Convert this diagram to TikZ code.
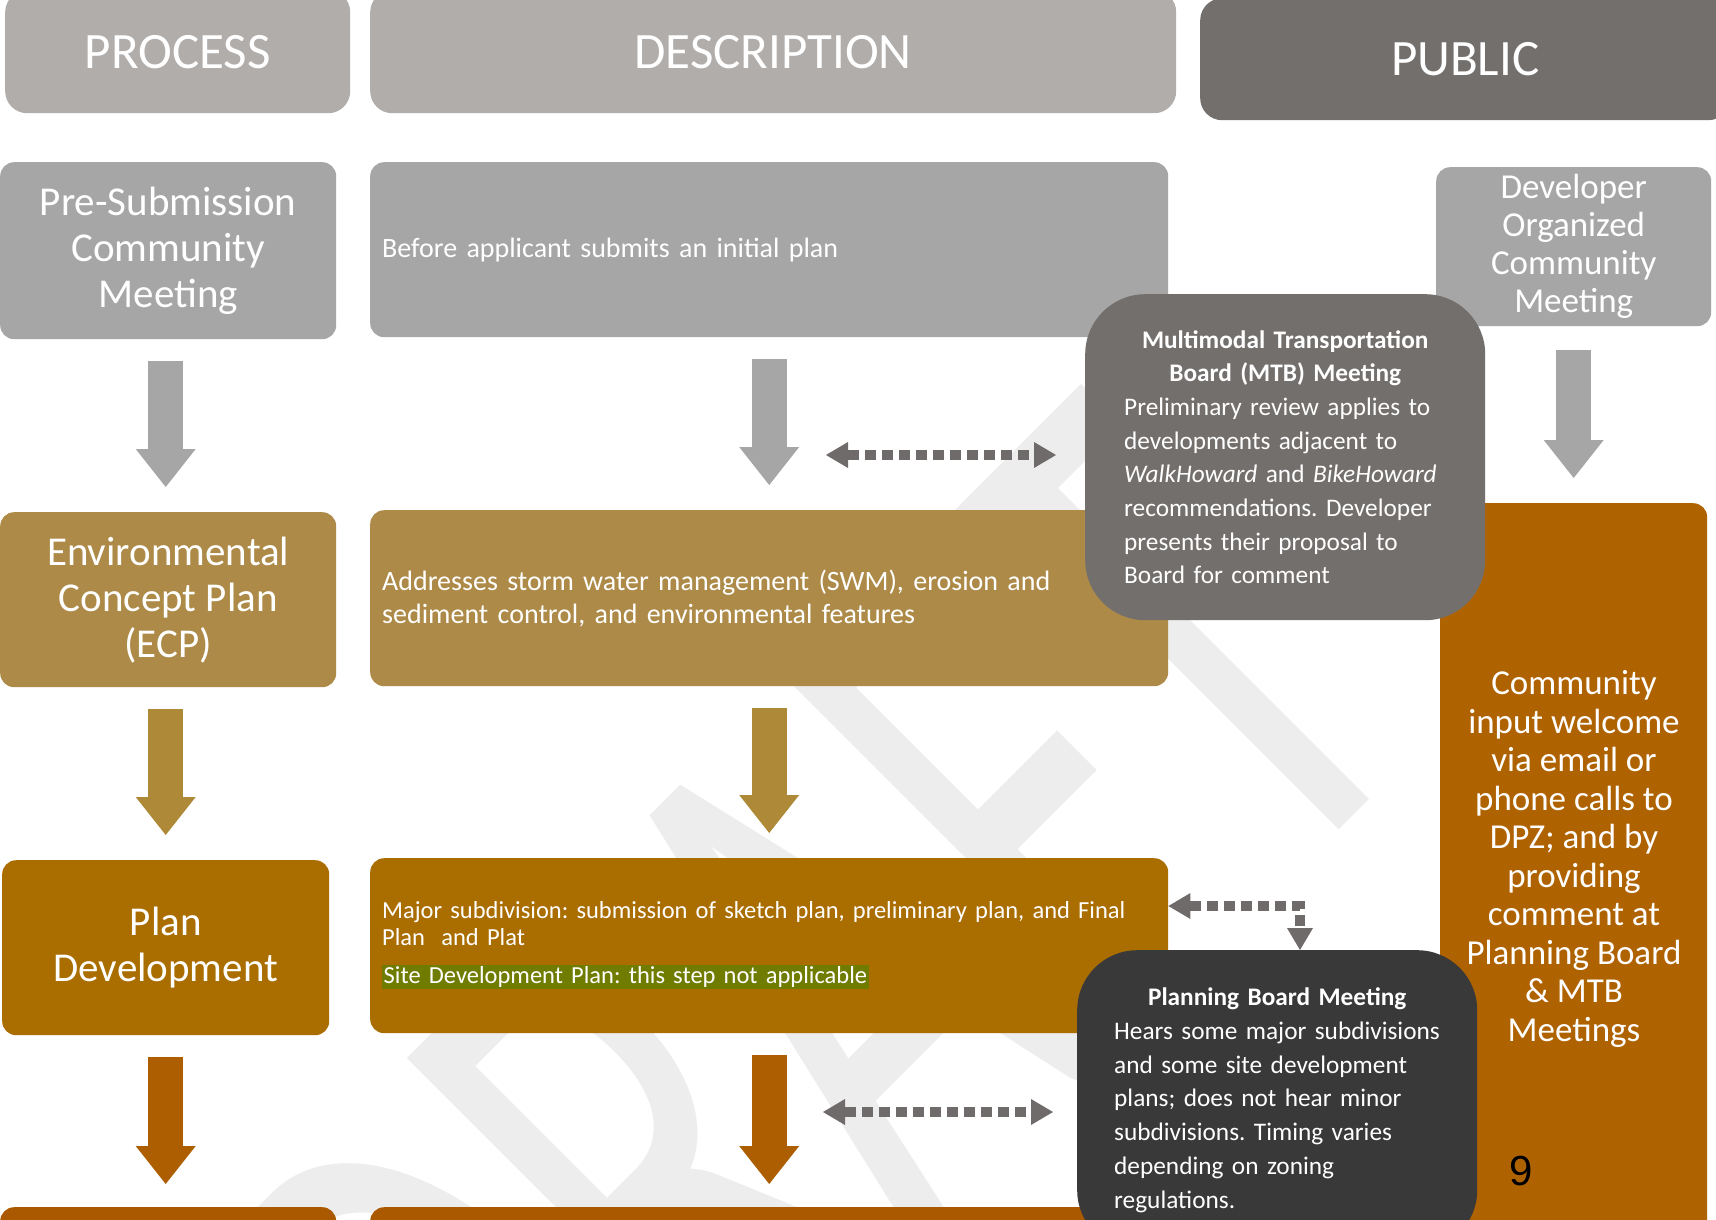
\documentclass[tikz,border=0pt]{standalone}
\usepackage{fontspec}
\setmainfont{Carlito}
\newfontfamily\pagenumfont{Liberation Sans}
\usetikzlibrary{arrows.meta, positioning}
\frenchspacing
\hyphenpenalty=10000
\hbadness=10000
\hfuzz=50pt

\definecolor{headlight}{HTML}{B0ADAB}
\definecolor{headdark}{HTML}{736F6D}
\definecolor{rowone}{HTML}{A6A6A6}
\definecolor{rowtwo}{HTML}{AD8A47}
\definecolor{rowthree}{HTML}{AA6D00}
\definecolor{rowfour}{HTML}{AB5900}
\definecolor{mtbgray}{HTML}{736F6D}
\definecolor{pbmdark}{HTML}{3A3939}
\definecolor{publicorange}{HTML}{AF6200}
\definecolor{arrowgold}{HTML}{AE8A38}
\definecolor{arrowbrown}{HTML}{AD5E00}
\definecolor{dotgray}{HTML}{6F6B6A}
\definecolor{hlgreen}{HTML}{707C00}
\definecolor{wmgray}{HTML}{EDEDED}

\begin{document}
\begin{tikzpicture}[
    x=1pt, y=-1pt,
    box/.style={rectangle, rounded corners=14pt, inner sep=0pt, anchor=north west, text=white, align=center},
    head/.style={box, rounded corners=22pt, font=\fontsize{51}{56}\selectfont},
    procbox/.style={box, minimum width=336pt, minimum height=176pt, font=\fontsize{41}{46}\selectfont},
    descbox/.style={box, align=left, text width=774pt, inner xsep=12pt, minimum height=176pt},
    meetbox/.style={box, rounded corners=60pt, align=left, font=\fontsize{25.3}{33.7}\selectfont},
    pubbox/.style={box, font=\fontsize{35}{38}\selectfont},
    blockarrow/.style={line width=35pt, -{Triangle[width=60pt, length=38pt, line width=0pt]}, shorten <=22pt, shorten >=25pt},
    dotarrow/.style={draw=dotgray, line width=10pt, dash pattern=on 11pt off 6pt, {Triangle[width=26pt, length=22pt, line width=0pt]}-{Triangle[width=26pt, length=22pt, line width=0pt]}}
]
    \useasboundingbox (0,0) rectangle (1716,1220);
    \fill[white] (0,0) rectangle (1716,1220);

    % watermark
    \node[anchor=base west, rotate=45, inner sep=0pt, text=wmgray, font=\fontsize{775}{775}\selectfont] (wm) at (525,1644) {\scalebox{0.62}[1]{DRAFT}};

    % Column heads
    \node[head, fill=headlight, minimum width=345pt, minimum height=123pt] (hproc) at (5,-10) {PROCESS};
    \node[head, fill=headlight, minimum width=806pt, minimum height=123pt] (hdesc) at (370,-10) {DESCRIPTION};
    \node[head, fill=headdark, minimum width=530pt, minimum height=122pt] (hpub) at (1200,-2) {PUBLIC};

    % Process column
    \node[procbox, fill=rowone, minimum height=177pt] (pre) at (0,162) {Pre-Submission\\Community\\Meeting};
    \node[procbox, fill=rowtwo, minimum height=175pt] (ecp) at (0,512) {Environmental\\Concept Plan\\(ECP)};
    \node[procbox, fill=rowthree, minimum width=327pt, minimum height=175pt] (plan) at (2,860) {Plan\\Development};
    \node[procbox, fill=rowfour, minimum height=80pt] (nextproc) at (0,1207) {};

    % Description column
    \node[descbox, fill=rowone, minimum height=175pt, font=\fontsize{28}{33}\selectfont] (desc1) at (370,162) {Before applicant submits an initial plan};
    \node[descbox, fill=rowtwo, font=\fontsize{28}{33}\selectfont] (desc2) at (370,510) {Addresses storm water management (SWM), erosion and\\sediment control, and environmental features};
    \node[descbox, fill=rowthree, minimum height=175pt, font=\fontsize{24.5}{27}\selectfont] (desc3) at (370,858) {\mbox{Major subdivision: submission of sketch plan, preliminary plan, and Final}\\Plan\ \ and Plat\\[11pt]{\setlength{\fboxsep}{1.5pt}\colorbox{hlgreen}{Site Development Plan: this step not applicable}}};
    \node[descbox, fill=rowfour, minimum height=80pt] (nextdesc) at (370,1207) {};

    % Public column
    \node[pubbox, fill=rowone, minimum width=275pt, minimum height=159pt] (dev) at (1436,167) {Developer\\Organized\\Community\\Meeting};
    \node[pubbox, fill=publicorange, minimum width=267pt, minimum height=760pt] (comm) at (1440,503) {};
    \node[text=white, align=center, font=\fontsize{35}{38.5}\selectfont] (commtxt) at (1574,859) {Community\\input welcome\\via email or\\phone calls to\\DPZ; and by\\providing\\comment at\\Planning Board\\\& MTB\\Meetings};

    % Meetings
    \node[meetbox, fill=mtbgray, text width=322pt, inner xsep=39pt, minimum height=326pt] (mtb) at (1085,294) {{\centering\bfseries Multimodal Transportation\\Board (MTB) Meeting\par}\mbox{Preliminary review applies to}\\\mbox{developments adjacent to}\\\mbox{\textit{WalkHoward} and \textit{BikeHoward}}\\\mbox{recommendations. Developer}\\\mbox{presents their proposal to}\\\mbox{Board for comment}};
    \node[meetbox, fill=pbmdark, text width=326pt, inner xsep=37pt, minimum height=300pt] (pbm) at (1077,950) {{\centering\bfseries Planning Board Meeting\par}\mbox{Hears some major subdivisions}\\\mbox{and some site development}\\\mbox{plans; does not hear minor}\\\mbox{subdivisions. Timing varies}\\\mbox{depending on zoning}\\\mbox{regulations.}};

    \node[text=black, font=\pagenumfont\fontsize{42}{42}\selectfont] (pagenum) at (1521,1171) {9};

    % Flow arrows
    \draw[blockarrow, draw=rowone] (plan |- pre.south) -- (plan |- ecp.north);
    \draw[blockarrow, draw=arrowgold] (plan |- ecp.south) -- (plan.north);
    \draw[blockarrow, draw=arrowbrown, shorten >=23pt] (plan) -- (plan |- nextproc.north);
    \draw[blockarrow, draw=rowone] (desc1) -- (desc1 |- desc2.north);
    \draw[blockarrow, draw=arrowgold] (desc2) -- (desc2 |- desc3.north);
    \draw[blockarrow, draw=arrowbrown, shorten >=23pt] (desc3.south) -- (desc3.south |- nextdesc.north);
    \draw[blockarrow, draw=rowone, shorten <=24pt] (dev) -- (dev |- comm.north);

    % Links to the meetings
    \coordinate (mtblink) at (826,455);
    \coordinate (pbmlink) at (823,1112);
    \coordinate (bend) at (1300,906);
    \draw[dotarrow, shorten >=29pt] (mtblink) -- (mtblink -| mtb.west);
    \draw[dotarrow, shorten >=24pt] (pbmlink) -- (pbmlink -| pbm.west);
    \draw[dotarrow] (desc3.east |- bend) -- (bend) -- (bend |- pbm.north);
\end{tikzpicture}
\end{document}
